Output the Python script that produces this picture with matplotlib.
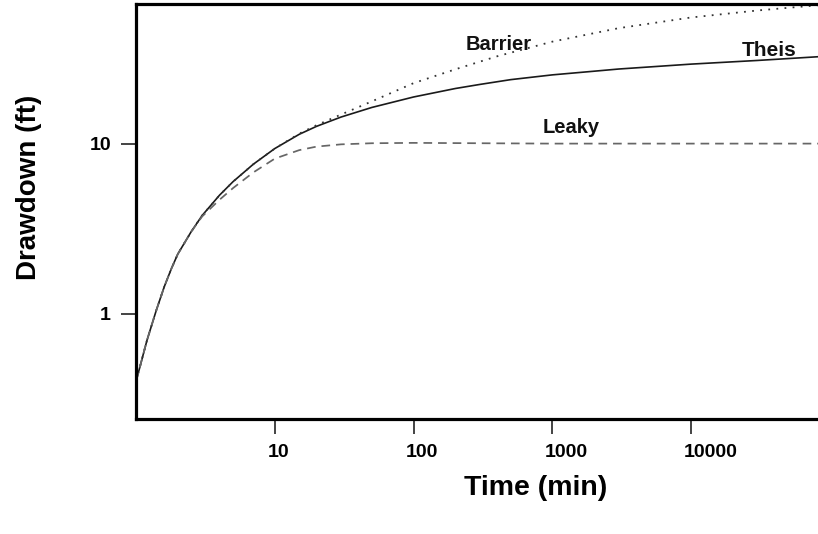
import matplotlib
matplotlib.use('Agg')
import matplotlib.pyplot as plt
import matplotlib.transforms as mtransforms

plt.rcParams['font.family'] = ['Liberation Sans', 'DejaVu Sans']
plt.rcParams['font.weight'] = 'bold'

# values (time in min, drawdown in ft)
time_theis = [1.0, 1.2, 1.4, 1.6, 1.8, 2.0, 2.5, 3, 4, 5, 7, 10, 15, 20, 30, 50, 100, 200, 300,
              500, 1000, 2000, 3000, 10000, 30000, 82000]
theis = [0.40, 0.70, 1.05, 1.45, 1.85, 2.25, 3.05, 3.8, 5.0, 6.0, 7.6, 9.4, 11.4, 12.7, 14.4,
         16.4, 18.9, 21.2, 22.4, 23.9, 25.5, 26.8, 27.6, 29.5, 31.0, 32.6]

time_barrier = [1.0, 1.2, 1.4, 1.6, 1.8, 2.0, 2.5, 3, 4, 5, 7, 10, 15, 20, 30, 50, 100, 200,
                400, 1000, 3000, 10000, 30000, 82000]
barrier = [0.40, 0.70, 1.05, 1.45, 1.85, 2.25, 3.05, 3.8, 5.0, 6.0, 7.6, 9.4, 11.5, 12.9, 14.9,
           17.8, 22.8, 27.5, 32.8, 40.0, 48.0, 55.5, 61.0, 65.5]

time_leaky = [1.0, 1.2, 1.4, 1.6, 1.8, 2.0, 2.5, 3, 4, 5, 7, 10, 15, 20, 30, 50, 100, 300,
              1000, 10000, 82000]
leaky = [0.40, 0.70, 1.05, 1.45, 1.85, 2.25, 3.05, 3.75, 4.7, 5.5, 6.8, 8.2, 9.2, 9.65, 9.95,
         10.1, 10.15, 10.1, 10.05, 10.05, 10.05]

xticks = [10, 100, 1000, 10000]
xticklabels = ['10', '100', '1000', '10000']
yticks = [1, 10]
yticklabels = ['1', '10']

fig = plt.figure(figsize=(8.18, 5.34), dpi=100)
ax = fig.add_axes([136/818, 115/534, 682/818, 415/534])

ax.plot(time_theis, theis, color='#1a1a1a', lw=1.2, ls='-')
ax.plot(time_barrier, barrier, color='#333333', lw=1.3, ls=(0, (1, 3.5)))
ax.plot(time_leaky, leaky, color='#666666', lw=1.25, ls=(0, (5, 3.4)))

ax.set_xscale('log')
ax.set_yscale('log')
ax.set_xlim(1.0, 82000)
ax.set_ylim(0.241, 66.6)

ax.text(409, 35.9, 'Barrier', ha='center', va='baseline', fontsize=14.5, fontweight='bold', color='#111111')
ax.text(36700, 32.8, 'Theis', ha='center', va='baseline', fontsize=15, fontweight='bold', color='#111111')
ax.text(1371, 11.6, 'Leaky', ha='center', va='baseline', fontsize=14.5, fontweight='bold', color='#111111')

ax.set_xticks(xticks, xticklabels)
ax.set_yticks(yticks, yticklabels)
ax.minorticks_off()
ax.tick_params(axis='both', which='major', labelsize=14, width=1.1, length=11, pad=7, color='#111111')

# x labels sit slightly right of their tick, as in the original
offset = mtransforms.ScaledTranslation(-7.5/100, 0, fig.dpi_scale_trans)
for lbl in ax.get_xticklabels():
    lbl.set_horizontalalignment('left')
    lbl.set_transform(lbl.get_transform() + offset)
    lbl.set_fontweight('bold')
for lbl in ax.get_yticklabels():
    lbl.set_fontweight('bold')

for side in ['left', 'top', 'bottom']:
    ax.spines[side].set_linewidth(2.3)
ax.spines['right'].set_visible(False)

ax.set_xlabel('Time (min)', fontsize=20.5, fontweight='bold')
ax.set_ylabel('Drawdown (ft)', fontsize=20, fontweight='bold')
ax.xaxis.set_label_coords(0.586, -0.135)
ax.yaxis.set_label_coords(-0.138, 0.557)

fig.savefig('out.png', dpi=100)
